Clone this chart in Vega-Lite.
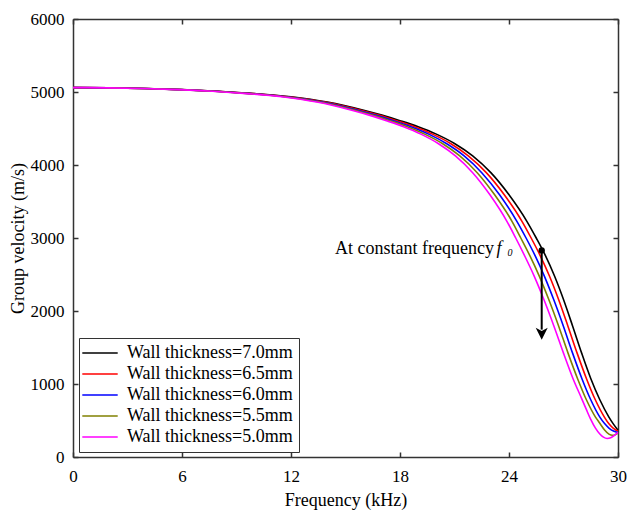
{
  "$schema": "https://vega.github.io/schema/vega-lite/v6.json",
  "width": 545,
  "height": 438,
  "autosize": {"type": "none"},
  "padding": {"left": 73, "top": 19, "right": 9, "bottom": 55},
  "config": {
    "font": "Liberation Serif",
    "view": {"stroke": null},
    "axis": {
      "labelFont": "Liberation Serif",
      "titleFont": "Liberation Serif",
      "labelFontSize": 17,
      "titleFontSize": 18,
      "titleFontWeight": "normal",
      "labelColor": "black",
      "titleColor": "black",
      "domainColor": "#333333",
      "domainWidth": 1.5,
      "tickColor": "#333333",
      "tickWidth": 1.5,
      "tickSize": -5,
      "labelPadding": 14,
      "grid": false,
      "labelFlush": false
    }
  },
  "datasets": {
    "curves": [
      {"s": "Wall thickness=7.0mm", "f": 0, "v": 5060},
      {"s": "Wall thickness=7.0mm", "f": 2, "v": 5057},
      {"s": "Wall thickness=7.0mm", "f": 4, "v": 5048},
      {"s": "Wall thickness=7.0mm", "f": 6, "v": 5033},
      {"s": "Wall thickness=7.0mm", "f": 8, "v": 5010},
      {"s": "Wall thickness=7.0mm", "f": 10, "v": 4978},
      {"s": "Wall thickness=7.0mm", "f": 12, "v": 4935},
      {"s": "Wall thickness=7.0mm", "f": 14, "v": 4862},
      {"s": "Wall thickness=7.0mm", "f": 16, "v": 4750},
      {"s": "Wall thickness=7.0mm", "f": 17, "v": 4683},
      {"s": "Wall thickness=7.0mm", "f": 18, "v": 4607},
      {"s": "Wall thickness=7.0mm", "f": 19, "v": 4524},
      {"s": "Wall thickness=7.0mm", "f": 20, "v": 4423},
      {"s": "Wall thickness=7.0mm", "f": 21, "v": 4295},
      {"s": "Wall thickness=7.0mm", "f": 22, "v": 4125},
      {"s": "Wall thickness=7.0mm", "f": 23, "v": 3895},
      {"s": "Wall thickness=7.0mm", "f": 24, "v": 3592},
      {"s": "Wall thickness=7.0mm", "f": 25, "v": 3222},
      {"s": "Wall thickness=7.0mm", "f": 25.5, "v": 3000},
      {"s": "Wall thickness=7.0mm", "f": 26, "v": 2762},
      {"s": "Wall thickness=7.0mm", "f": 26.5, "v": 2482},
      {"s": "Wall thickness=7.0mm", "f": 27, "v": 2157},
      {"s": "Wall thickness=7.0mm", "f": 27.5, "v": 1795},
      {"s": "Wall thickness=7.0mm", "f": 28, "v": 1423},
      {"s": "Wall thickness=7.0mm", "f": 28.5, "v": 1076},
      {"s": "Wall thickness=7.0mm", "f": 29, "v": 784},
      {"s": "Wall thickness=7.0mm", "f": 29.5, "v": 547},
      {"s": "Wall thickness=7.0mm", "f": 29.75, "v": 450},
      {"s": "Wall thickness=7.0mm", "f": 30, "v": 367},

      {"s": "Wall thickness=6.5mm", "f": 0, "v": 5060},
      {"s": "Wall thickness=6.5mm", "f": 1.98, "v": 5057},
      {"s": "Wall thickness=6.5mm", "f": 3.96, "v": 5048},
      {"s": "Wall thickness=6.5mm", "f": 5.94, "v": 5033},
      {"s": "Wall thickness=6.5mm", "f": 7.92, "v": 5010},
      {"s": "Wall thickness=6.5mm", "f": 9.9, "v": 4978},
      {"s": "Wall thickness=6.5mm", "f": 11.88, "v": 4935},
      {"s": "Wall thickness=6.5mm", "f": 13.86, "v": 4862},
      {"s": "Wall thickness=6.5mm", "f": 15.84, "v": 4750},
      {"s": "Wall thickness=6.5mm", "f": 16.83, "v": 4683},
      {"s": "Wall thickness=6.5mm", "f": 17.81, "v": 4607},
      {"s": "Wall thickness=6.5mm", "f": 18.8, "v": 4524},
      {"s": "Wall thickness=6.5mm", "f": 19.79, "v": 4423},
      {"s": "Wall thickness=6.5mm", "f": 20.78, "v": 4295},
      {"s": "Wall thickness=6.5mm", "f": 21.76, "v": 4125},
      {"s": "Wall thickness=6.5mm", "f": 22.75, "v": 3895},
      {"s": "Wall thickness=6.5mm", "f": 23.74, "v": 3592},
      {"s": "Wall thickness=6.5mm", "f": 24.73, "v": 3222},
      {"s": "Wall thickness=6.5mm", "f": 25.22, "v": 3000},
      {"s": "Wall thickness=6.5mm", "f": 25.71, "v": 2762},
      {"s": "Wall thickness=6.5mm", "f": 26.22, "v": 2482},
      {"s": "Wall thickness=6.5mm", "f": 26.73, "v": 2157},
      {"s": "Wall thickness=6.5mm", "f": 27.24, "v": 1795},
      {"s": "Wall thickness=6.5mm", "f": 27.75, "v": 1423},
      {"s": "Wall thickness=6.5mm", "f": 28.26, "v": 1076},
      {"s": "Wall thickness=6.5mm", "f": 28.75, "v": 784},
      {"s": "Wall thickness=6.5mm", "f": 29.25, "v": 547},
      {"s": "Wall thickness=6.5mm", "f": 29.5, "v": 455},
      {"s": "Wall thickness=6.5mm", "f": 29.75, "v": 392},
      {"s": "Wall thickness=6.5mm", "f": 30, "v": 352},

      {"s": "Wall thickness=6.0mm", "f": 0, "v": 5060},
      {"s": "Wall thickness=6.0mm", "f": 1.96, "v": 5057},
      {"s": "Wall thickness=6.0mm", "f": 3.92, "v": 5048},
      {"s": "Wall thickness=6.0mm", "f": 5.88, "v": 5033},
      {"s": "Wall thickness=6.0mm", "f": 7.84, "v": 5010},
      {"s": "Wall thickness=6.0mm", "f": 9.79, "v": 4978},
      {"s": "Wall thickness=6.0mm", "f": 11.75, "v": 4935},
      {"s": "Wall thickness=6.0mm", "f": 13.71, "v": 4862},
      {"s": "Wall thickness=6.0mm", "f": 15.67, "v": 4750},
      {"s": "Wall thickness=6.0mm", "f": 16.65, "v": 4683},
      {"s": "Wall thickness=6.0mm", "f": 17.63, "v": 4607},
      {"s": "Wall thickness=6.0mm", "f": 18.6, "v": 4524},
      {"s": "Wall thickness=6.0mm", "f": 19.58, "v": 4423},
      {"s": "Wall thickness=6.0mm", "f": 20.55, "v": 4295},
      {"s": "Wall thickness=6.0mm", "f": 21.53, "v": 4125},
      {"s": "Wall thickness=6.0mm", "f": 22.5, "v": 3895},
      {"s": "Wall thickness=6.0mm", "f": 23.48, "v": 3592},
      {"s": "Wall thickness=6.0mm", "f": 24.45, "v": 3222},
      {"s": "Wall thickness=6.0mm", "f": 24.94, "v": 3000},
      {"s": "Wall thickness=6.0mm", "f": 25.43, "v": 2762},
      {"s": "Wall thickness=6.0mm", "f": 25.94, "v": 2482},
      {"s": "Wall thickness=6.0mm", "f": 26.46, "v": 2157},
      {"s": "Wall thickness=6.0mm", "f": 26.99, "v": 1795},
      {"s": "Wall thickness=6.0mm", "f": 27.5, "v": 1423},
      {"s": "Wall thickness=6.0mm", "f": 28.01, "v": 1076},
      {"s": "Wall thickness=6.0mm", "f": 28.5, "v": 784},
      {"s": "Wall thickness=6.0mm", "f": 29, "v": 547},
      {"s": "Wall thickness=6.0mm", "f": 29.25, "v": 462},
      {"s": "Wall thickness=6.0mm", "f": 29.5, "v": 397},
      {"s": "Wall thickness=6.0mm", "f": 29.75, "v": 355},
      {"s": "Wall thickness=6.0mm", "f": 30, "v": 335},

      {"s": "Wall thickness=5.5mm", "f": 0, "v": 5060},
      {"s": "Wall thickness=5.5mm", "f": 1.94, "v": 5057},
      {"s": "Wall thickness=5.5mm", "f": 3.87, "v": 5048},
      {"s": "Wall thickness=5.5mm", "f": 5.81, "v": 5033},
      {"s": "Wall thickness=5.5mm", "f": 7.75, "v": 5010},
      {"s": "Wall thickness=5.5mm", "f": 9.69, "v": 4978},
      {"s": "Wall thickness=5.5mm", "f": 11.63, "v": 4935},
      {"s": "Wall thickness=5.5mm", "f": 13.57, "v": 4862},
      {"s": "Wall thickness=5.5mm", "f": 15.51, "v": 4750},
      {"s": "Wall thickness=5.5mm", "f": 16.48, "v": 4683},
      {"s": "Wall thickness=5.5mm", "f": 17.44, "v": 4607},
      {"s": "Wall thickness=5.5mm", "f": 18.4, "v": 4524},
      {"s": "Wall thickness=5.5mm", "f": 19.36, "v": 4423},
      {"s": "Wall thickness=5.5mm", "f": 20.33, "v": 4295},
      {"s": "Wall thickness=5.5mm", "f": 21.29, "v": 4125},
      {"s": "Wall thickness=5.5mm", "f": 22.25, "v": 3895},
      {"s": "Wall thickness=5.5mm", "f": 23.21, "v": 3592},
      {"s": "Wall thickness=5.5mm", "f": 24.18, "v": 3222},
      {"s": "Wall thickness=5.5mm", "f": 24.65, "v": 3000},
      {"s": "Wall thickness=5.5mm", "f": 25.14, "v": 2762},
      {"s": "Wall thickness=5.5mm", "f": 25.66, "v": 2482},
      {"s": "Wall thickness=5.5mm", "f": 26.19, "v": 2157},
      {"s": "Wall thickness=5.5mm", "f": 26.73, "v": 1795},
      {"s": "Wall thickness=5.5mm", "f": 27.25, "v": 1423},
      {"s": "Wall thickness=5.5mm", "f": 27.77, "v": 1076},
      {"s": "Wall thickness=5.5mm", "f": 28.26, "v": 784},
      {"s": "Wall thickness=5.5mm", "f": 28.76, "v": 547},
      {"s": "Wall thickness=5.5mm", "f": 29, "v": 462},
      {"s": "Wall thickness=5.5mm", "f": 29.25, "v": 374},
      {"s": "Wall thickness=5.5mm", "f": 29.5, "v": 314},
      {"s": "Wall thickness=5.5mm", "f": 29.7, "v": 297},
      {"s": "Wall thickness=5.5mm", "f": 29.85, "v": 305},
      {"s": "Wall thickness=5.5mm", "f": 30, "v": 328},

      {"s": "Wall thickness=5.0mm", "f": 0, "v": 5060},
      {"s": "Wall thickness=5.0mm", "f": 1.92, "v": 5057},
      {"s": "Wall thickness=5.0mm", "f": 3.83, "v": 5048},
      {"s": "Wall thickness=5.0mm", "f": 5.75, "v": 5033},
      {"s": "Wall thickness=5.0mm", "f": 7.67, "v": 5010},
      {"s": "Wall thickness=5.0mm", "f": 9.58, "v": 4978},
      {"s": "Wall thickness=5.0mm", "f": 11.5, "v": 4935},
      {"s": "Wall thickness=5.0mm", "f": 13.42, "v": 4862},
      {"s": "Wall thickness=5.0mm", "f": 15.34, "v": 4750},
      {"s": "Wall thickness=5.0mm", "f": 16.3, "v": 4683},
      {"s": "Wall thickness=5.0mm", "f": 17.25, "v": 4607},
      {"s": "Wall thickness=5.0mm", "f": 18.2, "v": 4524},
      {"s": "Wall thickness=5.0mm", "f": 19.15, "v": 4423},
      {"s": "Wall thickness=5.0mm", "f": 20.1, "v": 4295},
      {"s": "Wall thickness=5.0mm", "f": 21.05, "v": 4125},
      {"s": "Wall thickness=5.0mm", "f": 22, "v": 3895},
      {"s": "Wall thickness=5.0mm", "f": 22.95, "v": 3592},
      {"s": "Wall thickness=5.0mm", "f": 23.9, "v": 3222},
      {"s": "Wall thickness=5.0mm", "f": 24.37, "v": 3000},
      {"s": "Wall thickness=5.0mm", "f": 24.85, "v": 2762},
      {"s": "Wall thickness=5.0mm", "f": 25.38, "v": 2482},
      {"s": "Wall thickness=5.0mm", "f": 25.92, "v": 2157},
      {"s": "Wall thickness=5.0mm", "f": 26.47, "v": 1795},
      {"s": "Wall thickness=5.0mm", "f": 27, "v": 1423},
      {"s": "Wall thickness=5.0mm", "f": 27.52, "v": 1076},
      {"s": "Wall thickness=5.0mm", "f": 28, "v": 800},
      {"s": "Wall thickness=5.0mm", "f": 28.25, "v": 655},
      {"s": "Wall thickness=5.0mm", "f": 28.5, "v": 515},
      {"s": "Wall thickness=5.0mm", "f": 28.75, "v": 398},
      {"s": "Wall thickness=5.0mm", "f": 29, "v": 315},
      {"s": "Wall thickness=5.0mm", "f": 29.2, "v": 272},
      {"s": "Wall thickness=5.0mm", "f": 29.4, "v": 254},
      {"s": "Wall thickness=5.0mm", "f": 29.6, "v": 264},
      {"s": "Wall thickness=5.0mm", "f": 29.8, "v": 296},
      {"s": "Wall thickness=5.0mm", "f": 30, "v": 337}
    ],
    "arrow": [{"f": 25.8, "v": 2830, "v2": 1745}],
    "dot": [{"f": 25.8, "v": 2830}],
    "head": [{"f": 25.8, "v": 1689}],
    "label": [{"f": 23.17, "v": 2781, "t": "At constant frequency"}],
    "labelf": [{"f": 23.31, "v": 2781, "t": "f"}],
    "label0": [{"f": 23.92, "v": 2748, "t": "0"}]
  },
  "resolve": {"scale": {"x": "independent", "y": "independent"}},
  "layer": [
    {
      "layer": [
        {
          "data": {"name": "curves"},
          "mark": {"type": "line", "strokeWidth": 1.6, "interpolate": "monotone"},
          "encoding": {
            "x": {
              "field": "f", "type": "quantitative",
              "scale": {"domain": [0, 30], "nice": false, "zero": false},
              "axis": {"orient": "bottom", "values": [0, 6, 12, 18, 24, 30], "labelPadding": 16, "title": "Frequency (kHz)", "titleX": 272.5, "titleY": 43, "titleBaseline": "middle"}
            },
            "y": {
              "field": "v", "type": "quantitative",
              "scale": {"domain": [0, 6000], "nice": false},
              "axis": {"orient": "left", "format": "d", "values": [0, 1000, 2000, 3000, 4000, 5000, 6000], "title": "Group velocity (m/s)", "titleX": -55, "titleY": 219, "titleBaseline": "middle", "titleAngle": -90}
            },
            "color": {
              "field": "s", "type": "nominal",
              "scale": {
                "domain": ["Wall thickness=7.0mm", "Wall thickness=6.5mm", "Wall thickness=6.0mm", "Wall thickness=5.5mm", "Wall thickness=5.0mm"],
                "range": ["#000000", "#ff0000", "#0000ff", "#808000", "#ff00ff"]
              },
              "legend": {
                "orient": "none", "legendX": 6, "legendY": 319, "title": null,
                "symbolType": "M-2.95,0L2.95,0", "symbolSize": 144, "symbolStrokeWidth": 1.5,
                "symbolOffset": 6, "labelOffset": 18,
                "labelFont": "Liberation Serif", "labelFontSize": 18, "labelColor": "black", "labelLimit": 0,
                "rowPadding": 3, "padding": 6, "strokeColor": "#333333", "fillColor": "white"
              }
            }
          }
        },
        {
          "data": {"name": "dot"},
          "mark": {"type": "point", "filled": true, "color": "black", "size": 40, "opacity": 1},
          "encoding": {
            "x": {"field": "f", "type": "quantitative"},
            "y": {"field": "v", "type": "quantitative"}
          }
        },
        {
          "data": {"name": "head"},
          "mark": {"type": "point", "filled": true, "color": "black", "size": 144, "opacity": 1, "shape": "M0,1L-1,-1L0,-0.45L1,-1Z"},
          "encoding": {
            "x": {"field": "f", "type": "quantitative"},
            "y": {"field": "v", "type": "quantitative"}
          }
        },
        {
          "data": {"name": "label"},
          "mark": {"type": "text", "align": "right", "baseline": "alphabetic", "fontSize": 18, "font": "Liberation Serif", "color": "black"},
          "encoding": {
            "x": {"field": "f", "type": "quantitative"},
            "y": {"field": "v", "type": "quantitative"},
            "text": {"field": "t"}
          }
        },
        {
          "data": {"name": "labelf"},
          "mark": {"type": "text", "align": "left", "baseline": "alphabetic", "fontSize": 18, "fontStyle": "italic", "font": "Liberation Serif", "color": "black"},
          "encoding": {
            "x": {"field": "f", "type": "quantitative"},
            "y": {"field": "v", "type": "quantitative"},
            "text": {"field": "t"}
          }
        },
        {
          "data": {"name": "label0"},
          "mark": {"type": "text", "align": "left", "baseline": "alphabetic", "fontSize": 10, "fontStyle": "italic", "font": "Liberation Serif", "color": "black"},
          "encoding": {
            "x": {"field": "f", "type": "quantitative"},
            "y": {"field": "v", "type": "quantitative"},
            "text": {"field": "t"}
          }
        }
      ]
    },
    {
      "data": {"name": "arrow"},
      "mark": {"type": "rule", "strokeWidth": 2, "color": "black"},
      "encoding": {
        "x": {"field": "f", "type": "quantitative", "scale": {"domain": [0, 30], "nice": false, "zero": false}, "axis": {"orient": "top", "labels": false, "title": null, "values": [0, 6, 12, 18, 24, 30]}},
        "y": {"field": "v", "type": "quantitative", "scale": {"domain": [0, 6000], "nice": false}, "axis": {"orient": "right", "labels": false, "title": null, "values": [0, 1000, 2000, 3000, 4000, 5000, 6000]}},
        "y2": {"field": "v2"}
      }
    }
  ]
}
